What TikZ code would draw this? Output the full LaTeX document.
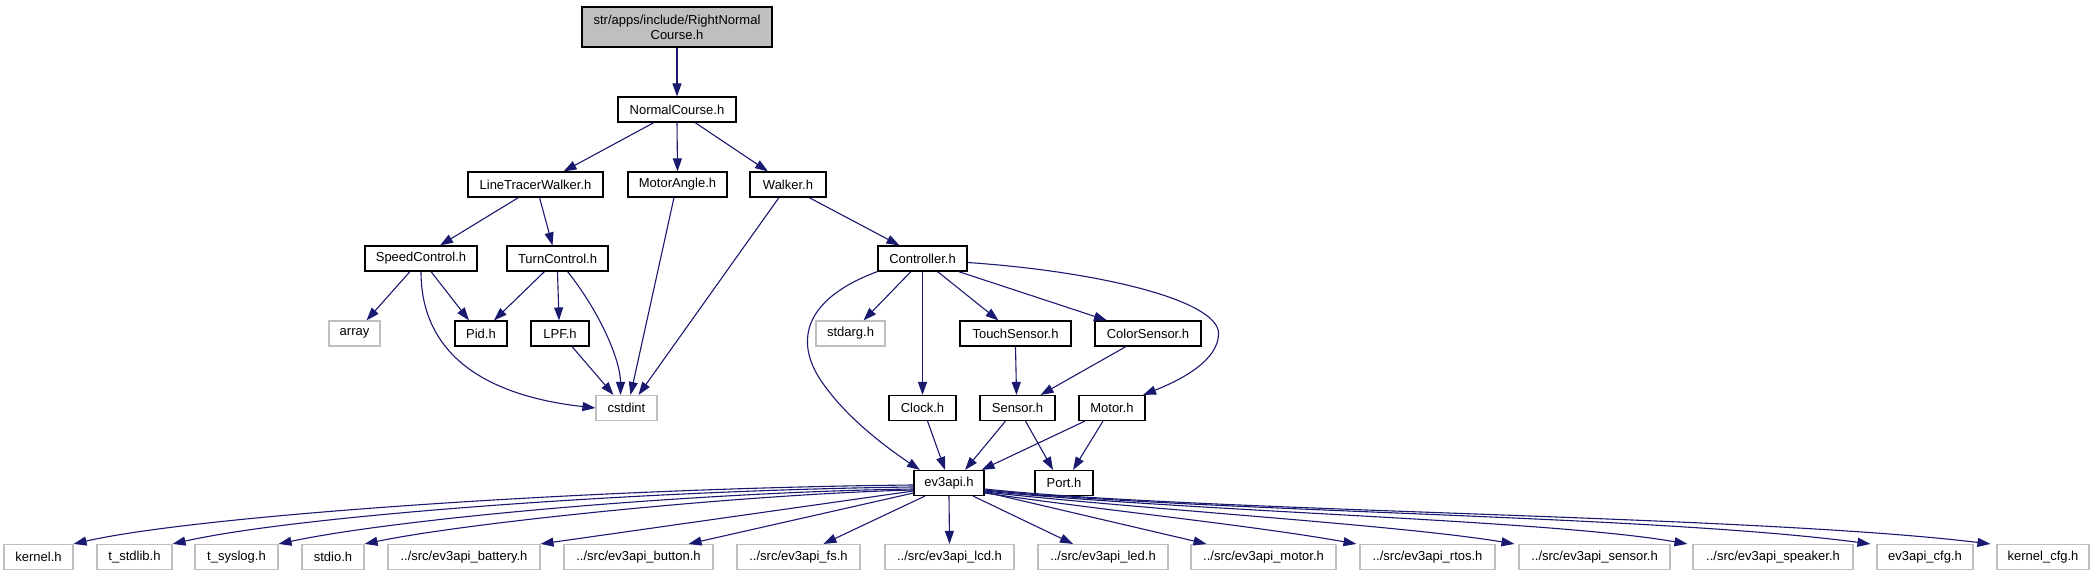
\documentclass[tikz,border=0pt]{standalone}
\usepackage{fontspec}
\setmainfont{Liberation Sans}
\usetikzlibrary{arrows.meta,calc}
\definecolor{edgeblue}{RGB}{25,25,112}
\definecolor{boxgrey}{RGB}{191,191,191}
\begin{document}
\begin{tikzpicture}[x=0.5pt,y=-0.5pt,
  font=\fontsize{6.5}{7.5}\selectfont,
  wd/.style={minimum width=#1*0.5pt},
  bx/.style={draw=black,line width=0.55pt,inner sep=0pt,minimum height=12.5pt,fill=white},
  gx/.style={draw=boxgrey,line width=0.55pt,inner sep=0pt,minimum height=12.5pt,fill=white},
  e/.style={draw=edgeblue,line width=0.55pt,-{Triangle[length=6.5pt,width=4.5pt]}}]
\useasboundingbox (0,0) rectangle (2096,576);
% nodes
\node[bx,fill=boxgrey,wd=190,minimum height=20pt,align=center] (root) at (677,27) {str/apps/include/RightNormal\\Course.h};
\node[bx,wd=118] (nc) at (677,109.5) {NormalCourse.h};
\node[bx,wd=135] (ltw) at (535.5,184.5) {LineTracerWalker.h};
\node[bx,wd=99] (ma) at (677.5,184.5) {MotorAngle.h};
\node[bx,wd=76] (wk) at (788,184.5) {Walker.h};
\node[bx,wd=112] (sc) at (421,258.5) {SpeedControl.h};
\node[bx,wd=101] (tc) at (557.5,258.5) {TurnControl.h};
\node[bx,wd=89] (ctrl) at (922.5,258.5) {Controller.h};
\node[gx,wd=51] (arr) at (354.5,333.5) {array};
\node[bx,wd=52] (pid) at (481,333.5) {Pid.h};
\node[bx,wd=58] (lpf) at (560,333.5) {LPF.h};
\node[gx,wd=69] (sta) at (850.5,333.5) {stdarg.h};
\node[bx,wd=111] (touch) at (1015.5,333.5) {TouchSensor.h};
\node[bx,wd=106] (color) at (1148,333.5) {ColorSensor.h};
\node[gx,wd=61] (cst) at (626.5,408) {cstdint};
\node[bx,wd=67] (clock) at (922.5,408) {Clock.h};
\node[bx,wd=75] (sensor) at (1017.5,408) {Sensor.h};
\node[bx,wd=66] (motor) at (1112,408) {Motor.h};
\node[bx,wd=70] (ev) at (949,483) {ev3api.h};
\node[bx,wd=58] (port) at (1064,483) {Port.h};
% bottom row
\node[gx,wd=69] (kern) at (38.5,557) {kernel.h};
\node[gx,wd=75] (tstd) at (134.5,557) {t\_stdlib.h};
\node[gx,wd=83] (tsys) at (236.5,557) {t\_syslog.h};
\node[gx,wd=62] (stdio) at (333,557) {stdio.h};
\node[gx,wd=152] (bat) at (464,557) {../src/ev3api\_battery.h};
\node[gx,wd=149] (btn) at (638.5,557) {../src/ev3api\_button.h};
\node[gx,wd=123] (fs) at (798.5,557) {../src/ev3api\_fs.h};
\node[gx,wd=129] (lcd) at (949.5,557) {../src/ev3api\_lcd.h};
\node[gx,wd=130] (led) at (1103,557) {../src/ev3api\_led.h};
\node[gx,wd=145] (emot) at (1263.5,557) {../src/ev3api\_motor.h};
\node[gx,wd=135] (rtos) at (1427.5,557) {../src/ev3api\_rtos.h};
\node[gx,wd=151] (esen) at (1594.5,557) {../src/ev3api\_sensor.h};
\node[gx,wd=160] (spk) at (1773,557) {../src/ev3api\_speaker.h};
\node[gx,wd=96] (cfg) at (1925,557) {ev3api\_cfg.h};
\node[gx,wd=92] (kcfg) at (2043,557) {kernel\_cfg.h};
% edges upper part
\draw[e] (root.south) -- (nc.north);
\draw[e] ($(nc.south)+(-23,0)$) -- ($(ltw.north)+(28,0)$);
\draw[e] (nc.south) -- (ma.north);
\draw[e] ($(nc.south)+(18,0)$) -- ($(wk.north)+(-20,0)$);
\draw[e] ($(ltw.south)+(-17,0)$) -- ($(sc.north)+(19,0)$);
\draw[e] ($(ltw.south)+(4,0)$) -- ($(tc.north)+(-5,0)$);
\draw[e] ($(ma.south)+(-3.5,0)$) -- ($(cst.north)+(4,0)$);
\draw[e] ($(wk.south)+(-9,0)$) -- ($(cst.north)+(12,0)$);
\draw[e] ($(wk.south)+(21,0)$) -- ($(ctrl.north)+(-23,0)$);
\draw[e] ($(sc.south)+(-11,0)$) -- ($(arr.north)+(12,0)$);
\draw[e] ($(sc.south)+(10,0)$) -- ($(pid.north)+(-12,0)$);
\draw[e] (sc.south) .. controls +(0,79) and +(-116,-13) .. (cst.west);
\draw[e] ($(tc.south)+(-13,0)$) -- ($(pid.north)+(13,0)$);
\draw[e] (tc.south) -- ($(lpf.north)+(-1,0)$);
\draw[e] ($(tc.south)+(10,0)$) .. controls +(32,40) and +(0,-35) .. ($(cst.north)+(-6,0)$);
\draw[e] ($(lpf.south)+(12,0)$) -- ($(cst.north)+(-13,0)$);
\draw[e] ($(ctrl.south)+(-11.5,0)$) -- ($(sta.north)+(13,0)$);
\draw[e] (ctrl.south) -- (clock.north);
\draw[e] ($(ctrl.south)+(15,0)$) -- ($(touch.north)+(-17,0)$);
\draw[e] ($(ctrl.south)+(36,0)$) -- ($(color.north)+(-41,0)$);
\draw[e] ($(ctrl.east)+(0,4)$) .. controls +(132,9) and +(0,-33) .. ($(color.east)+(17,0)$)
   .. controls +(0,27) and +(38,-15) .. ($(motor.north)+(31,0)$);
\draw[e] (ctrl.south west) .. controls +(-78,29) and +(-30,-40) .. ($(sta.south west)+(9,39)$)
   .. controls +(25,35) and +(-30,-20) .. ($(ev.north)+(-29,0)$);
\draw[e] (touch.south) -- ($(sensor.north)+(-1,0)$);
\draw[e] ($(color.south)+(-22,0)$) -- ($(sensor.north)+(23,0)$);
\draw[e] ($(clock.south)+(5,0)$) -- ($(ev.north)+(-4,0)$);
\draw[e] ($(sensor.south)+(-12,0)$) -- ($(ev.north)+(16,0)$);
\draw[e] ($(sensor.south)+(8,0)$) -- ($(port.north)+(-11,0)$);
\draw[e] ($(motor.south)+(-27,0)$) -- ($(ev.north east)+(-3,0)$);
\draw[e] ($(motor.south)+(-9,0)$) -- ($(port.north)+(9,0)$);
% edges from ev3api.h
\draw[e] ($(ev.west)+(0,2)$) .. controls +(-314,3) and +(127,-29) .. (kern.north east);
\draw[e] ($(ev.west)+(0,4)$) .. controls +(-264,3) and +(128,-29) .. (tstd.north east);
\draw[e] ($(ev.west)+(0,6)$) .. controls +(-214,3) and +(122,-26) .. (tsys.north east);
\draw[e] ($(ev.west)+(0,7)$) .. controls +(-164,4) and +(106,-22) .. (stdio.north east);
\draw[e] ($(ev.west)+(0,8)$) -- (bat.north east);
\draw[e] ($(ev.west)+(0,10)$) -- ($(btn.north)+(50,0)$);
\draw[e] ($(ev.south)+(-24,0)$) -- ($(fs.north)+(25,0)$);
\draw[e] (ev.south) -- (lcd.north);
\draw[e] ($(ev.south)+(24,0)$) -- ($(led.north)+(-30,0)$);
\draw[e] ($(ev.east)+(0,9)$) -- ($(emot.north)+(-57,0)$);
\draw[e] ($(ev.east)+(0,10)$) .. controls +(116,17) and +(-107,-19) .. ($(rtos.north west)+(-3,0)$);
\draw[e] ($(ev.east)+(0,9)$) .. controls +(166,18) and +(-115,-19) .. ($(esen.north west)+(-4,0)$);
\draw[e] ($(ev.east)+(0,8)$) .. controls +(216,21) and +(-138,-24) .. ($(spk.north west)+(-5,0)$);
\draw[e] ($(ev.east)+(0,7)$) .. controls +(216,22) and +(-221,-29) .. ($(cfg.north west)+(-6,0)$);
\draw[e] ($(ev.east)+(0,6)$) .. controls +(216,23) and +(-241,-29) .. ($(kcfg.north west)+(-6,0)$);
\end{tikzpicture}
\end{document}
